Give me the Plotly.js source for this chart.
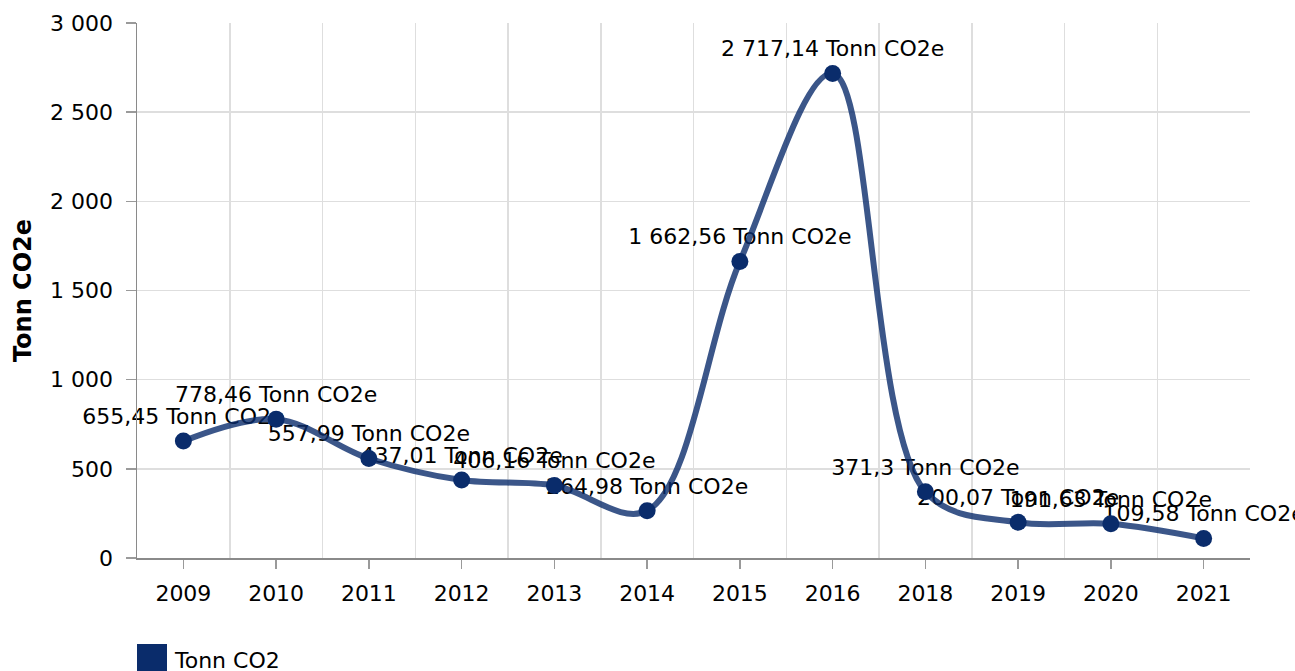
<!DOCTYPE html>
<html>
<head>
<meta charset="utf-8">
<script src="https://cdn.plot.ly/plotly-3.0.1.min.js"></script>
<style>html,body{margin:0;padding:0;background:#fff;}#chart{width:1295px;height:671px;}</style>
</head>
<body>
<div id="chart"></div>
<script>
const years = ['2009','2010','2011','2012','2013','2014','2015','2016','2018','2019','2020','2021'];
const tonnCO2 = [655.45, 778.46, 557.99, 437.01, 406.16, 264.98, 1662.56, 2717.14, 371.3, 200.07, 191.63, 109.58];
const labelTexts = ['655,45','778,46','557,99','437,01','406,16','264,98','1 662,56','2 717,14','371,3','200,07','191,63','109,58'];
const unitSuffix = ' Tonn CO2e';
const seriesName = 'Tonn CO2';
const yTitle = 'Tonn CO2e';

const FONT = 'DejaVu Sans, Verdana, sans-serif';
const FS = 22;
const NAVY = '#0a2c6b';

const textTrace = {
  type: 'scatter', mode: 'markers+text', x: years, y: tonnCO2,
  xaxis: 'x', yaxis: 'y',
  text: labelTexts.map(t => t + unitSuffix),
  textposition: 'top center',
  textfont: {family: FONT, size: FS, color: '#000'},
  marker: {size: 17, opacity: 0},
  cliponaxis: false, showlegend: false, hoverinfo: 'skip'
};
const lineTrace = {
  type: 'scatter', mode: 'lines+markers', x: years, y: tonnCO2,
  xaxis: 'x2', yaxis: 'y', name: seriesName,
  line: {shape: 'spline', smoothing: 1, width: 6, color: 'rgba(10,44,107,0.8)'},
  marker: {size: 17, color: NAVY},
  cliponaxis: false, showlegend: false
};

const plotL = 137, plotR = 1250, plotT = 23, plotB = 558;
const W = 1295, H = 671;
const pw = plotR - plotL, ph = plotB - plotT;
const px = v => (v - plotL) / pw;
const py = v => (plotB - v) / ph;

const layout = {
  width: W, height: H,
  margin: {l: plotL, r: W - plotR, t: plotT, b: H - plotB, pad: 0},
  paper_bgcolor: '#fff', plot_bgcolor: '#fff',
  separators: ', ',
  font: {family: FONT, size: FS, color: '#000'},
  showlegend: false,
  xaxis: {
    type: 'category', categoryorder: 'array', categoryarray: years,
    range: [-0.5, years.length - 0.5],
    showgrid: false, zeroline: false,
    showline: true, linecolor: '#8a8a8a', linewidth: 1.5,
    ticks: 'outside', ticklen: 9, tickwidth: 1.5, tickcolor: '#9a9a9a',
    tickfont: {family: FONT, size: FS, color: '#000'}, ticklabelstandoff: 6
  },
  xaxis2: {
    type: 'category', overlaying: 'x', matches: 'x',
    categoryorder: 'array', categoryarray: years,
    tickson: 'boundaries', showgrid: true, gridcolor: '#dedede', gridwidth: 1.5,
    ticks: '', showticklabels: false, showline: false, zeroline: false
  },
  yaxis: {
    range: [0, 3000], dtick: 500, tick0: 0,
    showgrid: true, gridcolor: '#dedede', gridwidth: 1.5, zeroline: false,
    showline: true, linecolor: '#8a8a8a', linewidth: 1.5,
    ticks: 'outside', ticklen: 10, tickwidth: 1.5, tickcolor: '#9a9a9a',
    tickformat: ',d', ticklabelstandoff: 8,
    tickfont: {family: FONT, size: FS, color: '#000'},
    title: {text: '<b>' + yTitle + '</b>', font: {family: FONT, size: 24, color: '#000'}, standoff: 11}
  },
  shapes: [{
    type: 'rect', xref: 'paper', yref: 'paper',
    x0: px(137), x1: px(167), y0: py(644), y1: py(674),
    fillcolor: NAVY, line: {width: 0}
  }],
  annotations: [{
    xref: 'paper', yref: 'paper', x: px(172), y: py(660),
    xanchor: 'left', yanchor: 'middle', showarrow: false,
    text: seriesName, font: {family: FONT, size: FS, color: '#000'}
  }]
};

Plotly.newPlot('chart', [textTrace, lineTrace], layout, {displayModeBar: false, staticPlot: true});
</script>
</body>
</html>
